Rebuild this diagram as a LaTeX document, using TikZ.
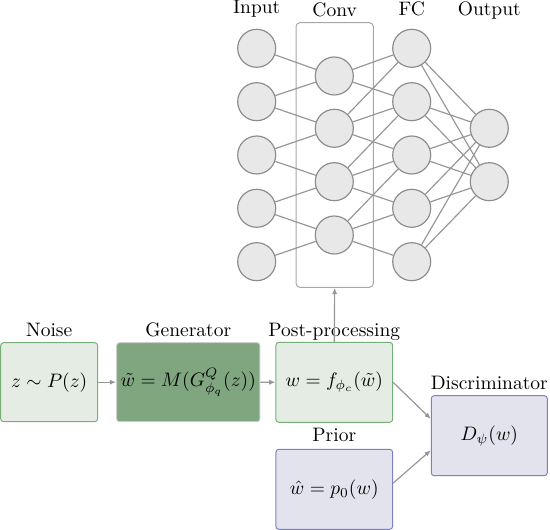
\documentclass[tikz,border=0pt]{standalone}
\usetikzlibrary{arrows.meta,calc}
\definecolor{neuronfill}{RGB}{232,232,232}
\definecolor{neurondraw}{RGB}{140,140,140}
\definecolor{edgecol}{RGB}{150,150,150}
\definecolor{lgreen}{RGB}{229,236,228}
\definecolor{dgreenfill}{RGB}{128,166,128}
\definecolor{greendraw}{RGB}{120,175,120}
\definecolor{lpurple}{RGB}{227,227,238}
\definecolor{purpledraw}{RGB}{128,128,192}
\begin{document}
\begin{tikzpicture}[x=0.513pt,y=-0.513pt,
  neuron/.style={circle,draw=neurondraw,fill=neuronfill,line width=0.6pt,minimum size={38*0.513pt},inner sep=0pt},
  edge/.style={draw=edgecol,line width=0.6pt},
  arr/.style={draw=edgecol,line width=0.6pt,-{Latex[length=3.2pt,width=2.6pt]}},
  lbl/.style={anchor=base,inner sep=0pt},
  gbox/.style={draw=greendraw,fill=lgreen,rounded corners=1.5pt,line width=0.5pt,inner sep=0pt},
  genbox/.style={draw=black!20,fill=dgreenfill,rounded corners=1.5pt,line width=0.5pt,inner sep=0pt},
  pbox/.style={draw=purpledraw,fill=lpurple,rounded corners=1.5pt,line width=0.5pt,inner sep=0pt}
]
\useasboundingbox (0,0) rectangle (550,530);
% conv box
\node[draw=black!35,rounded corners=2pt,line width=0.5pt,minimum width={77.3*0.513pt},minimum height={264.6*0.513pt},inner sep=0pt] (convbox) at (334.7,155) {};
% neurons
\foreach \i/\y in {1/48.3,2/101.7,3/155,4/208.3,5/261.7}{
  \node[neuron] (in\i) at (256.7,\y) {};
  \node[neuron] (fc\i) at (411.7,\y) {};
}
\foreach \i/\y in {1/76,2/128.3,3/181.7,4/235}{
  \node[neuron] (cv\i) at (334.3,\y) {};
}
\node[neuron] (out1) at (489.3,128.3) {};
\node[neuron] (out2) at (489.3,181.7) {};
% edges
\begin{scope}[on background layer/.style={}]
\end{scope}
\foreach \a/\b in {in1/cv1,in2/cv1,in2/cv2,in3/cv2,in3/cv3,in4/cv3,in4/cv4,in5/cv4,
  cv1/fc1,cv1/fc2,cv2/fc1,cv2/fc2,cv2/fc3,cv3/fc2,cv3/fc3,cv3/fc4,cv4/fc3,cv4/fc4,cv4/fc5}{
  \draw[edge] (\a) -- (\b);
}
\foreach \i in {1,...,5}{
  \draw[edge] (fc\i) -- (out1);
  \draw[edge] (fc\i) -- (out2);
}
% labels
\node[lbl] (linput) at (256.7,13.3) {Input};
\node[lbl] (lconv) at (334.7,16.7) {Conv};
\node[lbl] (lfc) at (411.7,16) {FC};
\node[lbl] (lout) at (489.3,15.5) {Output};
% boxes
\node[gbox,minimum width={97*0.513pt},minimum height={79*0.513pt}] (noise) at (49.2,382.2) {$z\sim P(z)$};
\node[genbox,minimum width={143.3*0.513pt},minimum height={79*0.513pt}] (gen) at (188.3,382.2) {$\tilde w = M(G^Q_{\phi_q}(z))$};
\node[gbox,minimum width={116.7*0.513pt},minimum height={80*0.513pt}] (post) at (334.3,382.3) {$w = f_{\phi_c}(\tilde w)$};
\node[pbox,minimum width={116.7*0.513pt},minimum height={80*0.513pt}] (prior) at (334.3,489.3) {$\hat w = p_0(w)$};
\node[pbox,minimum width={116*0.513pt},minimum height={80*0.513pt}] (disc) at (489.3,435.7) {$D_\psi(w)$};
\node[lbl] (lnoise) at (49.2,337) {Noise};
\node[lbl] (lgen) at (188.3,337) {Generator};
\node[lbl] (lpost) at (334.3,337) {Post-processing};
\node[lbl] (lprior) at (334.3,442) {Prior};
\node[lbl] (ldisc) at (489.3,390) {Discriminator};
% arrows
\draw[arr] (noise) -- (gen);
\draw[arr] (gen) -- (post);
\draw[arr] (post.north) -- (convbox.south);
\draw[arr] (post.east) -- (disc.164);
\draw[arr] (prior.6) -- (disc.194);
\end{tikzpicture}
\end{document}
